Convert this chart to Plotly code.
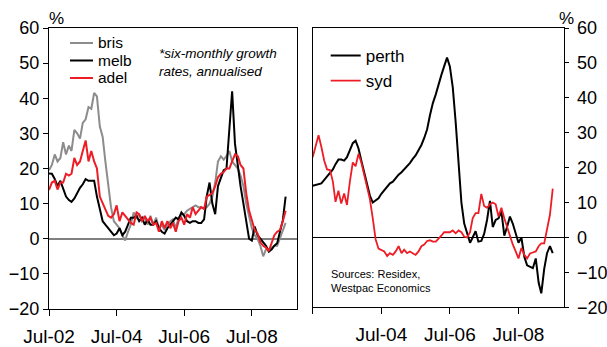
import pandas as pd
import plotly.graph_objects as go

# Monthly observations, Jul-2002 to Jul-2009 (six-monthly growth, annualised, %)
months = pd.date_range("2002-07-01", periods=85, freq="MS")

bris = [19.5, 21, 24, 22, 23, 27.5, 24, 26.5, 25, 31,
        30, 28.5, 33, 34, 37.5, 37, 41.5, 40.5, 32, 29,
        22, 15, 9, 5, 4, 3, 1, -0.5, 2, 4,
        7.5, 6, 7, 5, 6, 4, 6.5, 4, 6, 3,
        4, 2.5, 4, 5, 5.5, 3, 6, 7, 7, 8,
        8.5, 9, 9.5, 9, 9, 8.5, 9, 10, 12, 16,
        22, 23.5, 22.5, 23.5, 25, 22, 21, 20, 18, 15,
        10, 6, 3, 1, 0, -2, -5, -3, -3, -2.5,
        -2, -2, 0, 2, 4.5]

melb = [18.6, 18.5, 17, 15, 16.5, 14, 12, 11, 10.5, 11.5,
        13, 14.5, 15.5, 17, 16.5, 16.5, 16.5, 12, 8, 5,
        4, 3, 2, 1, 1.5, 3, 1, 2, 4, 6,
        6, 6.5, 5, 6, 4, 5.5, 4, 4, 5, 3,
        2, 1.5, 3, 4, 5, 6, 5.5, 7.5, 6.5, 5,
        4.5, 5, 5, 4.5, 4.5, 5.5, 12, 16, 10, 7,
        15, 17, 19.5, 20, 30, 42, 27, 20, 15, 10,
        5.3, 0, -0.5, 3.5, 1, 0, -1, -2, -3.7, -3,
        -2, -1.3, 2, 5.3, 12]

adel = [13.9, 16, 16.5, 14, 16, 16, 18.5, 18, 18.5, 23,
        21, 22, 25, 28, 22, 25, 22, 20, 12, 10,
        8, 6.5, 6, 7, 9.5, 5, 7.5, 6.5, 5.5, 4.5,
        4, 7.5, 7, 5, 6.5, 5, 6, 4, 4.5, 2,
        5, 3, 5, 3, 4.5, 2, 5, 6, 4, 7,
        6, 9, 7, 8, 9, 8.5, 12, 12.5, 13, 15,
        17.5, 18.5, 19, 20, 20, 22, 24, 23.5, 21, 20,
        13, 8, 5, 2.5, 1.5, -1, -2, -2.5, -3.5, -1,
        1, 2, 2.5, 5, 8]

perth = [14.8, 15, 15.2, 15.5, 16.5, 17.5, 18.5, 19.5, 21, 22.3,
         22.3, 22, 23, 25, 27, 27.7, 25.5, 22, 18.5, 15,
         12, 10, 10.5, 11.2, 12.5, 13.5, 14.5, 15.5, 16, 17,
         18, 18.7, 19.5, 20.5, 21.3, 22.5, 23.5, 25, 26.5, 28.5,
         31, 35, 38.5, 41, 44, 46.5, 49, 51.5, 49, 43,
         33, 22, 10, 4, 1, -1.5, 0, 1.8, -1.2, -1,
         1, 5, 10.5, 3, 5, 5.5, 7.5, 0.5, 3, 6,
         4, 1.5, -1.5, 0, -5.5, -8, -8.3, -8.8, -6, -13,
         -16, -9, -4.5, -2.5, -4.5]

syd = [23, 26, 29.3, 26, 22, 19.5, 19.3, 16, 10.2, 13.4,
       9.7, 12.6, 9.3, 16, 21.5, 20.4, 24, 21.5, 18, 15,
       11, 5.5, -0.5, -3.2, -3.5, -4, -5.3, -4.5, -5, -4,
       -2.5, -4.5, -3.5, -4.5, -4, -4.5, -5, -4, -2.5, -2,
       -1, -0.8, -1.2, -1.2, -0.5, 0.5, 1.5, 1.6, 1.5, 2,
       1.2, 2, 1.5, 0.2, 0, 1.5, 5.5, 7, 7, 12.5,
       9, 8.5, 9.5, 10, 9.5, 6, 8.5, 5.5, 3, 0.5,
       -2, -4, -6, -3, -5, -6, -4.6, -4.3, -4, -2.5,
       -1.7, -1.7, 2, 6.5, 14]

tick_dates = ["2002-07-01", "2004-07-01", "2006-07-01", "2008-07-01"]
left_ticktext = ["Jul-02", "Jul-04", "Jul-06", "Jul-08"]
right_ticktext = ["", "Jul-04", "Jul-06", "Jul-08"]
y_ticks = [-20, -10, 0, 10, 20, 30, 40, 50, 60]

RED = "#ee1c25"
GREY = "#8c8c8c"
FONT = "Arial, Liberation Sans, sans-serif"
W, H = 607, 347

left_series = [("bris", bris, GREY), ("melb", melb, "#000000"), ("adel", adel, RED)]
right_series = [("perth", perth, "#000000", 2), ("syd", syd, RED, 1.8)]

fig = go.Figure()
for name, vals, col in left_series:
    fig.add_trace(go.Scatter(x=months, y=vals, name=name, mode="lines", showlegend=False,
                             line=dict(color=col, width=2), xaxis="x", yaxis="y"))
for name, vals, col, lw in right_series:
    fig.add_trace(go.Scatter(x=months, y=vals, name=name, mode="lines",
                             line=dict(color=col, width=lw), xaxis="x2", yaxis="y2",
                             legend="legend2"))

x_common = dict(type="date", range=["2002-07-01", "2009-11-01"], tickmode="array",
                tickvals=tick_dates, ticks="outside", ticklen=6, tickcolor="#000",
                showline=True, linecolor="#000", linewidth=1, mirror=True,
                showgrid=False, zeroline=False, ticklabelstandoff=4, automargin=False,
                tickfont=dict(family=FONT, size=19, color="#000"))
y_common = dict(range=[-20, 60], tickmode="array", tickvals=y_ticks,
                ticks="outside", tickcolor="#000", showline=True, linecolor="#000",
                linewidth=1, mirror=True, showgrid=False, zeroline=True, automargin=False,
                tickfont=dict(family=FONT, size=18, color="#000"))

# Key for the left panel: short line samples with labels, stacked tightly
key_shapes = []
key_notes = []
key_rows = [43, 60.5, 78]
for (name, _, col), row in zip(left_series, key_rows):
    yy = 1 - row / H
    key_shapes.append(dict(type="line", xref="paper", yref="paper",
                           x0=70 / W, x1=93 / W, y0=yy, y1=yy,
                           line=dict(color=col, width=2)))
    key_notes.append(dict(text=name, xref="paper", yref="paper", x=95.5 / W, y=yy,
                          xanchor="left", yanchor="middle", showarrow=False,
                          font=dict(family=FONT, size=15.5, color="#000")))

fig.update_layout(
    width=W, height=H, autosize=False,
    margin=dict(l=0, r=0, t=0, b=0, pad=0),
    paper_bgcolor="white", plot_bgcolor="white",
    font=dict(family=FONT, color="#000"),
    xaxis=dict(x_common, domain=[49 / W, 297 / W], ticktext=left_ticktext, anchor="y"),
    xaxis2=dict(x_common, domain=[312.7 / W, 564.3 / W], ticktext=right_ticktext, anchor="y2"),
    yaxis=dict(y_common, domain=[1 - 309 / H, 1 - 28 / H], anchor="x", side="left",
               ticklen=5, zerolinecolor="#808080", zerolinewidth=1.5),
    yaxis2=dict(y_common, domain=[1 - 307.3 / H, 1 - 28 / H], anchor="x2", side="right",
                ticklen=4, ticklabelstandoff=4, zerolinecolor="#000", zerolinewidth=1),
    legend2=dict(x=325.7 / W, y=1 - 38 / H, xanchor="left", yanchor="top",
                 bgcolor="rgba(0,0,0,0)", font=dict(family=FONT, size=17, color="#000"),
                 tracegroupgap=0),
    shapes=key_shapes,
    annotations=key_notes + [
        dict(text="<i>*six-monthly growth<br>rates, annualised</i>", xref="paper", yref="paper",
             x=157 / W, y=1 - 62 / H, xanchor="left", yanchor="middle", align="left",
             showarrow=False, font=dict(family=FONT, size=13.5, color="#000")),
        dict(text="Sources: Residex,<br>Westpac Economics", xref="paper", yref="paper",
             x=328.5 / W, y=1 - 280.5 / H, xanchor="left", yanchor="middle", align="left",
             showarrow=False, font=dict(family=FONT, size=11, color="#000")),
        dict(text="%", xref="paper", yref="paper", x=56.5 / W, y=1 - 18 / H,
             xanchor="center", yanchor="middle", showarrow=False,
             font=dict(family=FONT, size=17, color="#000")),
        dict(text="%", xref="paper", yref="paper", x=566.5 / W, y=1 - 19 / H,
             xanchor="center", yanchor="middle", showarrow=False,
             font=dict(family=FONT, size=17, color="#000")),
    ],
)

fig.write_html("out.html")
